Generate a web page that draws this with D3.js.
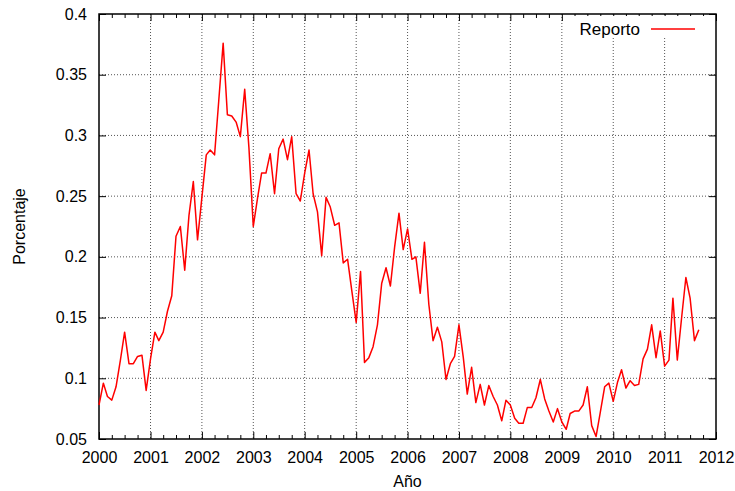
<!DOCTYPE html>
<html>
<head>
<meta charset="utf-8">
<script src="https://cdn.jsdelivr.net/npm/d3@7"></script>
<style>
  body { margin: 0; background: #fff; }
  svg text { font-family: "Liberation Sans", Arial, sans-serif; fill: #000; }
</style>
</head>
<body>
<svg id="chart" width="735" height="491"></svg>
<script>
// monthly series, starting January 2000
const startMonth = new Date(2000, 0, 1)
const reporto = [
  0.078, 0.096, 0.085, 0.082, 0.093, 0.115, 0.138, 0.112, 0.112, 0.118, 0.119, 0.090,
  0.116, 0.138, 0.131, 0.138, 0.155, 0.168, 0.217, 0.225, 0.189, 0.234, 0.262, 0.214,
  0.249, 0.284, 0.288, 0.284, 0.329, 0.376, 0.317, 0.316, 0.311, 0.299, 0.338, 0.290,
  0.225, 0.249, 0.269, 0.269, 0.285, 0.252, 0.289, 0.297, 0.280, 0.299, 0.252, 0.246,
  0.269, 0.288, 0.252, 0.237, 0.201, 0.249, 0.241, 0.226, 0.228, 0.195, 0.198, 0.172,
  0.146, 0.188, 0.113, 0.117, 0.126, 0.144, 0.178, 0.191, 0.176, 0.208, 0.236, 0.206,
  0.223, 0.198, 0.200, 0.170, 0.212, 0.161, 0.131, 0.142, 0.130, 0.099, 0.112, 0.118,
  0.144, 0.117, 0.087, 0.109, 0.080, 0.095, 0.078, 0.094, 0.085, 0.078, 0.065, 0.082,
  0.078, 0.067, 0.063, 0.063, 0.076, 0.076, 0.084, 0.099, 0.083, 0.073, 0.064, 0.075,
  0.064, 0.058, 0.071, 0.073, 0.073, 0.078, 0.093, 0.061, 0.052, 0.072, 0.093, 0.096,
  0.081, 0.097, 0.107, 0.092, 0.098, 0.094, 0.095, 0.116, 0.124, 0.144, 0.117, 0.139,
  0.110, 0.115, 0.166, 0.115, 0.149, 0.183, 0.166, 0.131, 0.140
]
const yearTicks = [2000, 2001, 2002, 2003, 2004, 2005, 2006, 2007, 2008, 2009, 2010, 2011, 2012]
const valueTicks = [0.05, 0.1, 0.15, 0.2, 0.25, 0.3, 0.35, 0.4]
const seriesName = 'Reporto'

const svg = d3.select('#chart')
const margin = { left: 99, right: 19, top: 14, bottom: 52 }
const width = 735 - margin.left - margin.right,
      height = 491 - margin.top - margin.bottom

const months = d3.timeMonth.range(startMonth, d3.timeMonth.offset(startMonth, reporto.length))
const points = reporto.map((v, i) => ({ date: months[i], value: v }))

const x = d3.scaleTime()
  .domain([new Date(yearTicks[0], 0, 1), new Date(yearTicks[yearTicks.length - 1], 0, 1)])
  .range([0, width])
const y = d3.scaleLinear()
  .domain([valueTicks[0], valueTicks[valueTicks.length - 1]])
  .range([height, 0])

const g = svg.append('g').attr('transform', `translate(${margin.left},${margin.top})`)

const yearDates = yearTicks.map(yr => new Date(yr, 0, 1))
const quarterDates = d3.timeMonth.every(3).range(yearDates[0], yearDates[yearDates.length - 1])
  .filter(d => d.getMonth() !== 0)

// dotted grid
g.append('g').selectAll('line').data(yearDates.slice(1, -1)).join('line')
  .attr('x1', d => x(d)).attr('x2', d => x(d)).attr('y1', 0).attr('y2', height)
  .attr('stroke', '#555').attr('stroke-width', 1).attr('stroke-dasharray', '1,2')
g.append('g').selectAll('line').data(valueTicks.slice(1, -1)).join('line')
  .attr('x1', 0).attr('x2', width).attr('y1', d => y(d)).attr('y2', d => y(d))
  .attr('stroke', '#555').attr('stroke-width', 1).attr('stroke-dasharray', '1,2')

// axes (ticks pointing inward, gnuplot style)
const fmtY = d => String(+d.toFixed(2))
g.append('g').attr('transform', `translate(0,${height})`)
  .call(d3.axisBottom(x).tickValues(yearDates).tickFormat(d3.timeFormat('%Y')).tickSize(-7).tickPadding(13))
g.append('g').attr('transform', `translate(0,${height})`)
  .call(d3.axisBottom(x).tickValues(quarterDates).tickFormat('').tickSize(-4))
g.append('g')
  .call(d3.axisTop(x).tickValues(yearDates).tickFormat('').tickSize(-7))
g.append('g')
  .call(d3.axisTop(x).tickValues(quarterDates).tickFormat('').tickSize(-4))
g.append('g')
  .call(d3.axisLeft(y).tickValues(valueTicks).tickFormat(fmtY).tickSize(-7).tickPadding(12))
g.append('g').attr('transform', `translate(${width},0)`)
  .call(d3.axisRight(y).tickValues(valueTicks).tickFormat('').tickSize(-7))

g.selectAll('.domain').remove()
g.selectAll('.tick line').attr('stroke', '#000').attr('stroke-width', 1)
g.selectAll('.tick text').attr('font-size', 16)

g.append('rect')
  .attr('width', width).attr('height', height)
  .attr('fill', 'none').attr('stroke', '#000').attr('stroke-width', 1.5)

// legend
const legend = g.append('g').attr('transform', `translate(${width - 145},2)`)
legend.append('rect').attr('width', 142).attr('height', 22).attr('fill', '#fff')
legend.append('text').attr('x', 69).attr('y', 19).attr('text-anchor', 'end')
  .attr('font-size', 17).text(seriesName)
legend.append('line').attr('x1', 80).attr('x2', 124).attr('y1', 13).attr('y2', 13)
  .attr('stroke', '#ff0000').attr('stroke-width', 1.5)

// series
g.append('path').datum(points)
  .attr('fill', 'none').attr('stroke', '#ff0000').attr('stroke-width', 1.5)
  .attr('stroke-linejoin', 'round')
  .attr('d', d3.line().x(d => x(d.date)).y(d => y(d.value)))

// axis titles
svg.append('text').attr('x', margin.left + width / 2).attr('y', 487)
  .attr('text-anchor', 'middle').attr('font-size', 16).text('Año')
svg.append('text').attr('transform', `translate(25,${margin.top + height / 2}) rotate(-90)`)
  .attr('text-anchor', 'middle').attr('font-size', 16).text('Porcentaje')
</script>
</body>
</html>
